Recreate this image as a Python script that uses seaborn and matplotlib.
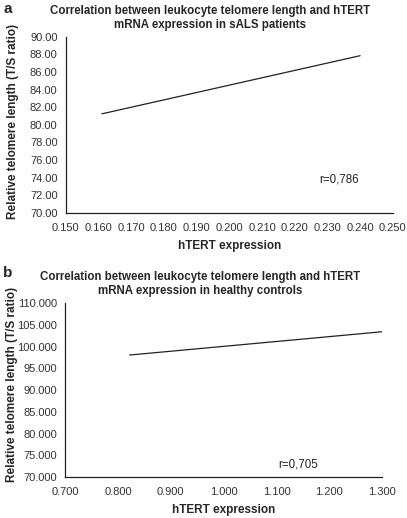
import matplotlib
matplotlib.use("Agg")
import matplotlib.pyplot as plt
import seaborn as sns
import pandas as pd
from matplotlib.ticker import FormatStrFormatter

# Panel a: sALS patients (trend line end points)
sals_htert = [0.161, 0.240]
sals_tl = [81.25, 87.85]
sals_r = "r=0,786"

# Panel b: healthy controls
ctrl_htert = [0.822, 1.300]
ctrl_tl = [98.05, 103.4]
ctrl_r = "r=0,705"

title_a = "Correlation between leukocyte telomere length and hTERT\nmRNA expression in sALS patients"
title_b = "Correlation between leukocyte telomere length and hTERT\nmRNA expression in healthy controls"
xlabel = "hTERT expression"
ylabel = "Relative telomere length (T/S ratio)"

sns.set_style("white")
plt.rcParams['font.family'] = ['Liberation Sans', 'DejaVu Sans']

fig = plt.figure(figsize=(4.07, 5.18), dpi=100)
ax_a = fig.add_axes([0.162, 0.589, 0.803, 0.340])
ax_b = fig.add_axes([0.160, 0.079, 0.779, 0.336])

df_a = pd.DataFrame({"x": sals_htert, "y": sals_tl})
df_b = pd.DataFrame({"x": ctrl_htert, "y": ctrl_tl})

sns.lineplot(data=df_a, x="x", y="y", color="#222222", linewidth=0.9, ax=ax_a)
sns.lineplot(data=df_b, x="x", y="y", color="#222222", linewidth=0.9, ax=ax_b)

ax_a.set_xlim(0.150, 0.250)
ax_a.set_ylim(70, 90)
ax_a.set_xticks([0.150 + 0.01 * i for i in range(11)])
ax_a.set_yticks(range(70, 91, 2))
ax_a.xaxis.set_major_formatter(FormatStrFormatter("%.3f"))
ax_a.yaxis.set_major_formatter(FormatStrFormatter("%.2f"))

ax_b.set_xlim(0.700, 1.300)
ax_b.set_ylim(70, 110)
ax_b.set_xticks([0.7 + 0.1 * i for i in range(7)])
ax_b.set_yticks(range(70, 111, 5))
ax_b.xaxis.set_major_formatter(FormatStrFormatter("%.3f"))
ax_b.yaxis.set_major_formatter(FormatStrFormatter("%.3f"))

panels = [(ax_a, title_a, sals_r, (0.776, 0.19), 0.44, -0.145, 0.52),
          (ax_b, title_b, ctrl_r, (0.673, 0.07), 0.426, -0.148, 0.53)]
for ax, title, rtxt, rpos, tx, lx, ly in panels:
    sns.despine(ax=ax)
    for side in ["left", "bottom"]:
        ax.spines[side].set_linewidth(0.9)
        ax.spines[side].set_color("#222222")
    ax.tick_params(axis="x", direction="out", length=3, width=0.8, labelsize=8,
                   color="#222222", labelcolor="#333333", pad=4)
    ax.tick_params(axis="y", length=0, labelsize=8, labelcolor="#333333", pad=6)
    ax.set_xlabel(xlabel, fontsize=8.5, fontweight="bold", labelpad=5)
    ax.set_ylabel(ylabel, fontsize=8.5, fontweight="bold")
    ax.yaxis.set_label_coords(lx, ly)
    ax.set_title(title, fontsize=8.3, fontweight="bold", pad=6.5, x=tx)
    ax.text(rpos[0], rpos[1], rtxt, transform=ax.transAxes, fontsize=8.3,
            va="center", color="#222222")

fig.text(0.008, 0.975, "a", fontsize=11, fontweight="bold")
fig.text(0.008, 0.466, "b", fontsize=11, fontweight="bold")

fig.savefig("out.png", dpi=100)
